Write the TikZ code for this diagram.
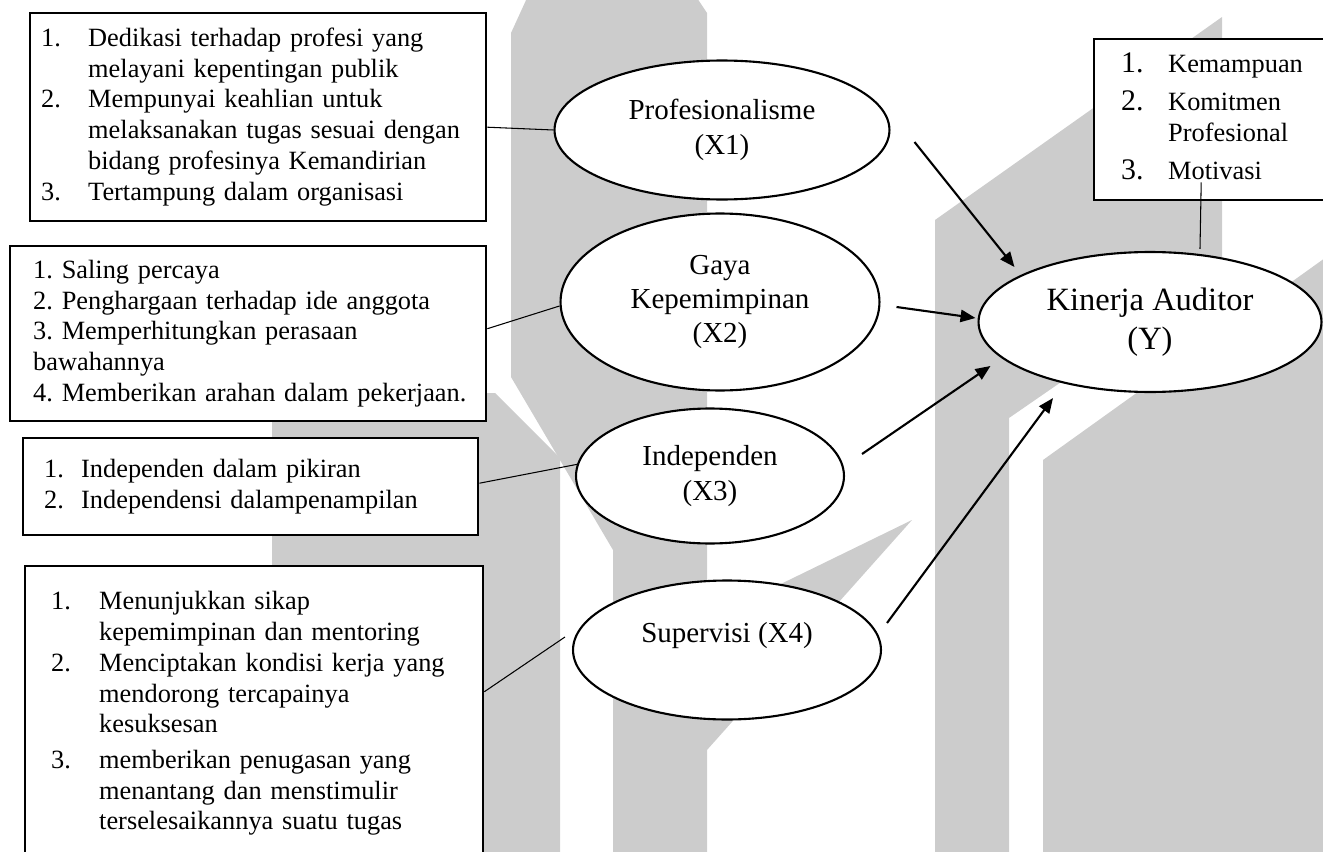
\documentclass[tikz,border=0pt]{standalone}
\usepackage{fontspec}
\setmainfont{Liberation Serif}
\usetikzlibrary{arrows.meta,shapes.geometric}
\frenchspacing
\tikzset{
    wmark/.style={fill=gray!40, draw=none},
    indbox/.style={draw, line width=1.4pt, fill=white, anchor=north west, align=left, inner ysep=0pt, font=\fontsize{15}{17.5}\selectfont},
    latent/.style={draw, ellipse, line width=1.2pt, fill=white, align=center, inner sep=0pt, font=\fontsize{16.5}{19.6}\selectfont},
    link/.style={line width=0.6pt},
    effect/.style={line width=1.2pt, -{Triangle[length=8.5pt,width=7pt]}}
}

\begin{document}
\begin{tikzpicture}[x=0.02cm, y=-0.02cm]
    \useasboundingbox (0,0) rectangle (1323,852);

    % watermark in the back
    \fill[wmark] (511,33) -- (527,-2) -- (697,-2) -- (707,13) -- (707,860) -- (613,860) -- (613,550) -- (511,377) -- cycle;
    \fill[wmark] (707,620) -- (912,520) -- (707,750) -- cycle;
    \fill[wmark] (272,393) -- (495,393) -- (560,458) -- (560,860) -- (272,860) -- cycle;
    \fill[wmark] (935,220) -- (1222,17) -- (1222,271) -- (1009,418) -- (1009,860) -- (935,860) -- cycle;
    \fill[wmark] (1043,460) -- (1325,258) -- (1325,860) -- (1043,860) -- cycle;

    % indicator boxes
    \node[indbox, inner xsep=0.22cm, text width=8.68cm, minimum width=9.12cm, minimum height=4.16cm] (ind1) at (29,12) {%
        \begin{tabular}{@{}p{0.94cm}@{}l@{}}
        1. & Dedikasi terhadap profesi yang\\
           & melayani kepentingan publik\\
        2. & Mempunyai keahlian untuk\\
           & melaksanakan tugas sesuai dengan\\
           & bidang profesinya Kemandirian\\
        3. & Tertampung dalam organisasi
        \end{tabular}};
    \node[indbox, inner xsep=0.46cm, text width=8.6cm, minimum width=9.52cm, minimum height=3.5cm] (ind2) at (9,245) {%
        \begin{tabular}{@{}l@{}}
        1. Saling percaya\\
        2. Penghargaan terhadap ide anggota\\
        3. Memperhitungkan perasaan\\
        bawahannya\\
        4. Memberikan arahan dalam pekerjaan.
        \end{tabular}};
    \node[indbox, inner xsep=0.42cm, text width=8.26cm, minimum width=9.1cm, minimum height=1.94cm] (ind3) at (22,437) {%
        \begin{tabular}{@{}p{0.74cm}@{}l@{}}
        1. & Independen dalam pikiran\\
        2. & Independensi dalampenampilan
        \end{tabular}};
    \node[indbox, inner xsep=0.52cm, text width=8.12cm, minimum width=9.16cm, minimum height=5.9cm] (ind4) at (24,565) {%
        \begin{tabular}{@{}p{0.96cm}@{}l@{}}
        1. & Menunjukkan sikap\\
           & kepemimpinan dan mentoring\\
        2. & Menciptakan kondisi kerja yang\\
           & mendorong tercapainya\\
           & kesuksesan\\[2.8pt]
        3. & memberikan penugasan yang\\
           & menantang dan menstimulir\\
           & terselesaikannya suatu tugas
        \end{tabular}};
    \node[indbox, inner xsep=0.54cm, text width=3.86cm, minimum width=4.94cm, minimum height=3.22cm] (yind) at (1093,38) {%
        \begin{tabular}{@{}p{0.94cm}@{}l@{}}
        {\fontsize{17}{17}\selectfont 1.} & Kemampuan\\[4pt]
        {\fontsize{17}{17}\selectfont 2.} & Komitmen\\
           & Profesional\\[4pt]
        {\fontsize{17}{17}\selectfont 3.} & Motivasi
        \end{tabular}};

    % variables
    \node[latent, minimum width=6.7cm, minimum height=2.78cm] (X1) at (722,130) {Profesionalisme\\(X1)};
    \node[latent, minimum width=6.38cm, minimum height=3.54cm] (X2) at (720,302) {Gaya\\Kepemimpinan\\(X2)};
    \node[latent, minimum width=5.36cm, minimum height=2.7cm] (X3) at (710,476) {Independen\\(X3)};
    \node[latent, minimum width=6.16cm, minimum height=2.78cm] (X4) at (727,650) {Supervisi (X4)\\\mbox{}};
    \node[latent, minimum width=6.86cm, minimum height=2.8cm, font=\fontsize{18.5}{22}\selectfont] (Y) at (1150,322) {Kinerja Auditor\\(Y)};

    % indicator links
    \draw[link] ([yshift=-0.2cm]ind1.east) -- (X1.west);
    \draw[link] ([yshift=0.1cm]ind2.east) -- ([yshift=-0.08cm]X2.west);
    \draw[link] ([yshift=0.07cm]ind3.east) -- (X3.175);
    \draw[link] ([yshift=0.44cm]ind4.east) -- ([xshift=-0.14cm,yshift=0.26cm]X4.west);
    \draw[link] ([xshift=-0.33cm,yshift=0.38cm]yind.south) -- ([xshift=1cm,yshift=0.04cm]Y.north);

    % effects on Y
    \draw[effect] ([xshift=0.48cm,yshift=-0.24cm]X1.east) -- ([xshift=0.74cm,yshift=1.1cm]Y.west);
    \draw[effect] ([xshift=0.32cm,yshift=-0.1cm]X2.east) -- ([xshift=-0.04cm,yshift=0.08cm]Y.west);
    \draw[effect] ([xshift=0.34cm,yshift=0.44cm]X3.east) -- ([xshift=0.26cm,yshift=-0.88cm]Y.west);
    \draw[effect] ([xshift=0.1cm,yshift=0.54cm]X4.east) -- ([xshift=-1.94cm,yshift=-0.1cm]Y.south);
\end{tikzpicture}
\end{document}
